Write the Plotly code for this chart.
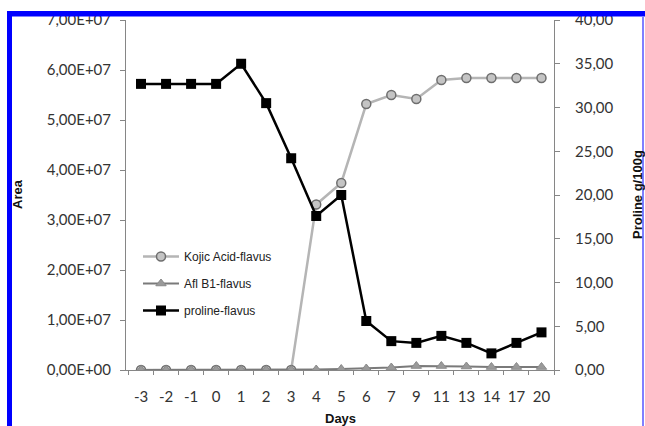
import plotly.graph_objects as go

days = ["-3", "-2", "-1", "0", "1", "2", "3", "4", "5", "6", "7", "9", "11", "13", "14", "17", "20"]
kojic_acid = [0, 0, 0, 0, 0, 0, 0, 3.31e7, 3.74e7, 5.32e7, 5.50e7, 5.42e7, 5.80e7, 5.84e7, 5.84e7, 5.84e7, 5.84e7]
afl_b1 = [0, 0, 0, 0, 0, 0, 0, 0.1e6, 0.2e6, 0.3e6, 0.5e6, 0.8e6, 0.8e6, 0.7e6, 0.6e6, 0.6e6, 0.6e6]
proline = [32.7, 32.7, 32.7, 32.7, 35.0, 30.5, 24.2, 17.6, 20.0, 5.6, 3.3, 3.1, 3.9, 3.1, 1.9, 3.1, 4.3]

left_ticks = [0, 1e7, 2e7, 3e7, 4e7, 5e7, 6e7, 7e7]
right_ticks = [0, 5, 10, 15, 20, 25, 30, 35, 40]


def sci_label(v):
    if v == 0:
        return "0,00E+00"
    return f"{v / 1e7:.2f}".replace(".", ",") + "E+07"


left_text = [sci_label(v) for v in left_ticks]
right_text = [f"{v:.2f}".replace(".", ",") for v in right_ticks]

W, H = 645, 426
ML, MR, MT, MB = 126, 91, 20, 56
PW, PH = W - ML - MR, H - MT - MB


def px(x):
    return (x - ML) / PW


def py(y):
    return (H - MB - y) / PH


fig = go.Figure()
fig.add_trace(go.Scatter(
    x=days, y=kojic_acid, name="Kojic Acid-flavus", mode="lines+markers",
    line=dict(color="#b5b5b5", width=2.5),
    marker=dict(symbol="circle", size=9, color="#c4c4c4", line=dict(color="#6e6e6e", width=1.5)),
    legendgroup="a", yaxis="y"))
fig.add_trace(go.Scatter(
    x=days, y=afl_b1, name="Afl B1-flavus", mode="lines+markers",
    line=dict(color="#7a7a7a", width=2),
    marker=dict(symbol="triangle-up", size=9, color="#9a9a9a", line=dict(color="#8a8a8a", width=1)),
    legendgroup="b", yaxis="y"))
fig.add_trace(go.Scatter(
    x=days, y=proline, name="proline-flavus", mode="lines+markers",
    line=dict(color="#000000", width=2.5),
    marker=dict(symbol="square", size=10, color="#000000"),
    legendgroup="c", yaxis="y2"))

tickfont = dict(family="Lato, Carlito, sans-serif", size=15, color="#333333")
fig.update_layout(
    width=W, height=H,
    margin=dict(l=ML, r=MR, t=MT, b=MB, autoexpand=False),
    plot_bgcolor="white", paper_bgcolor="white",
    showlegend=True,
    legend=dict(x=px(138), y=py(242), xanchor="left", yanchor="top", itemwidth=36,
                bgcolor="rgba(0,0,0,0)", traceorder="grouped", tracegroupgap=8,
                font=dict(family="Liberation Sans Narrow, Arial Narrow, Liberation Sans, sans-serif",
                          size=12, color="#222222")),
    xaxis=dict(type="category", categoryorder="array", categoryarray=days, range=[-0.6, 16.5],
               showline=True, linecolor="#868686", linewidth=1, tickangle=0,
               ticks="outside", tickson="boundaries", ticklen=4, tickcolor="#868686",
               showgrid=False, zeroline=False, tickfont=tickfont, ticklabelstandoff=13),
    yaxis=dict(range=[0, 7e7], tickvals=left_ticks, ticktext=left_text,
               showline=True, linecolor="#868686", linewidth=1,
               ticks="outside", ticklen=5, tickcolor="#868686",
               showgrid=False, zeroline=False, tickfont=tickfont, ticklabelstandoff=6),
    yaxis2=dict(range=[0, 40], tickvals=right_ticks, ticktext=right_text,
                overlaying="y", side="right",
                showline=True, linecolor="#868686", linewidth=1,
                ticks="outside", ticklen=5, tickcolor="#868686",
                showgrid=False, zeroline=False, tickfont=tickfont, ticklabelstandoff=12),
)

title_font = dict(family="Liberation Sans, Arial, sans-serif", size=13, color="#111111")
fig.add_annotation(text="<b>Area</b>", xref="paper", yref="paper", x=px(17), y=py(194),
                   textangle=-90, showarrow=False, xanchor="center", yanchor="middle", font=title_font)
fig.add_annotation(text="<b>Proline g/100g</b>", xref="paper", yref="paper", x=px(637), y=py(195),
                   textangle=-90, showarrow=False, xanchor="center", yanchor="middle", font=title_font)
fig.add_annotation(text="<b>Days</b>", xref="paper", yref="paper", x=px(340), y=py(418),
                   showarrow=False, xanchor="center", yanchor="middle", font=title_font)

# blue frame of the figure
fig.add_shape(type="rect", xref="paper", yref="paper", x0=px(7), x1=px(646), y0=py(11), y1=py(16.5),
              fillcolor="#0000ff", line=dict(width=0), layer="above")
fig.add_shape(type="rect", xref="paper", yref="paper", x0=px(7), x1=px(12), y0=py(11), y1=py(427),
              fillcolor="#0000ff", line=dict(width=0), layer="above")
fig.add_shape(type="rect", xref="paper", yref="paper", x0=px(642), x1=px(644), y0=py(16), y1=py(427),
              fillcolor="#8080ff", line=dict(width=0), layer="above")

fig.write_html("out.html")
